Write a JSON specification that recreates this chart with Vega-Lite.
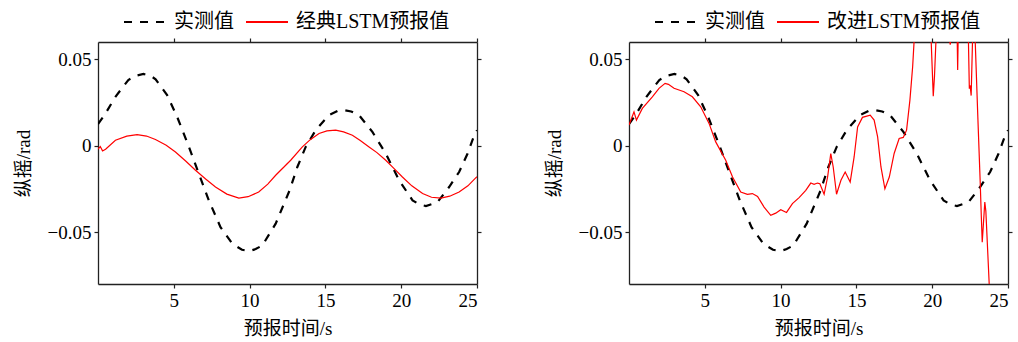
{
  "$schema": "https://vega.github.io/schema/vega-lite/v6.json",
  "padding": {"left": 14, "top": 0, "right": 5, "bottom": 5},
  "spacing": 63,
  "datasets": {
    "actual": [
      {"t": 0, "v": 0.0125, "s": "实测值"},
      {"t": 0.5, "v": 0.0187, "s": "实测值"},
      {"t": 1.15, "v": 0.0283, "s": "实测值"},
      {"t": 2.0, "v": 0.038, "s": "实测值"},
      {"t": 2.5, "v": 0.0405, "s": "实测值"},
      {"t": 3.0, "v": 0.0415, "s": "实测值"},
      {"t": 3.5, "v": 0.0403, "s": "实测值"},
      {"t": 3.8, "v": 0.0384, "s": "实测值"},
      {"t": 4.56, "v": 0.0293, "s": "实测值"},
      {"t": 5.22, "v": 0.0167, "s": "实测值"},
      {"t": 6.0, "v": -0.0007, "s": "实测值"},
      {"t": 6.65, "v": -0.0161, "s": "实测值"},
      {"t": 7.31, "v": -0.0316, "s": "实测值"},
      {"t": 8.08, "v": -0.0471, "s": "实测值"},
      {"t": 8.86, "v": -0.0567, "s": "实测值"},
      {"t": 9.5, "v": -0.0602, "s": "实测值"},
      {"t": 9.96, "v": -0.061, "s": "实测值"},
      {"t": 10.4, "v": -0.0598, "s": "实测值"},
      {"t": 10.84, "v": -0.0577, "s": "实测值"},
      {"t": 11.72, "v": -0.0451, "s": "实测值"},
      {"t": 12.64, "v": -0.0258, "s": "实测值"},
      {"t": 13.15, "v": -0.0123, "s": "实测值"},
      {"t": 13.7, "v": -0.0007, "s": "实测值"},
      {"t": 14.36, "v": 0.009, "s": "实测值"},
      {"t": 15.24, "v": 0.0177, "s": "实测值"},
      {"t": 15.8, "v": 0.0201, "s": "实测值"},
      {"t": 16.23, "v": 0.0206, "s": "实测值"},
      {"t": 16.7, "v": 0.0198, "s": "实测值"},
      {"t": 17.22, "v": 0.0177, "s": "实测值"},
      {"t": 18.1, "v": 0.008, "s": "实测值"},
      {"t": 18.98, "v": -0.0045, "s": "实测值"},
      {"t": 19.86, "v": -0.02, "s": "实测值"},
      {"t": 20.75, "v": -0.0316, "s": "实测值"},
      {"t": 21.2, "v": -0.034, "s": "实测值"},
      {"t": 21.63, "v": -0.0349, "s": "实测值"},
      {"t": 22.4, "v": -0.0326, "s": "实测值"},
      {"t": 23.16, "v": -0.0239, "s": "实测值"},
      {"t": 23.82, "v": -0.0152, "s": "实测值"},
      {"t": 24.38, "v": -0.0045, "s": "实测值"},
      {"t": 24.82, "v": 0.0061, "s": "实测值"},
      {"t": 25, "v": 0.009, "s": "实测值"}
    ],
    "classic": [
      {"t": 0, "v": -0.002, "s": "经典LSTM预报值"},
      {"t": 0.15, "v": -0.0005, "s": "经典LSTM预报值"},
      {"t": 0.3, "v": -0.003, "s": "经典LSTM预报值"},
      {"t": 0.5, "v": -0.002, "s": "经典LSTM预报值"},
      {"t": 1.15, "v": 0.0032, "s": "经典LSTM预报值"},
      {"t": 1.9, "v": 0.0055, "s": "经典LSTM预报值"},
      {"t": 2.58, "v": 0.0064, "s": "经典LSTM预报值"},
      {"t": 3.2, "v": 0.0056, "s": "经典LSTM预报值"},
      {"t": 3.79, "v": 0.0036, "s": "经典LSTM预报值"},
      {"t": 4.5, "v": 0.0003, "s": "经典LSTM预报值"},
      {"t": 5.11, "v": -0.0036, "s": "经典LSTM预报值"},
      {"t": 5.8, "v": -0.009, "s": "经典LSTM预报值"},
      {"t": 6.43, "v": -0.0142, "s": "经典LSTM预报值"},
      {"t": 7.1, "v": -0.0193, "s": "经典LSTM预报值"},
      {"t": 7.75, "v": -0.0239, "s": "经典LSTM预报值"},
      {"t": 8.5, "v": -0.028, "s": "经典LSTM预报值"},
      {"t": 9.29, "v": -0.0303, "s": "经典LSTM预报值"},
      {"t": 9.9, "v": -0.0295, "s": "经典LSTM预报值"},
      {"t": 10.6, "v": -0.0268, "s": "经典LSTM预报值"},
      {"t": 11.2, "v": -0.0222, "s": "经典LSTM预报值"},
      {"t": 11.72, "v": -0.0171, "s": "经典LSTM预报值"},
      {"t": 12.38, "v": -0.0113, "s": "经典LSTM预报值"},
      {"t": 12.71, "v": -0.0084, "s": "经典LSTM预报值"},
      {"t": 13.48, "v": -0.0007, "s": "经典LSTM预报值"},
      {"t": 14.0, "v": 0.0035, "s": "经典LSTM预报值"},
      {"t": 14.58, "v": 0.0071, "s": "经典LSTM预报值"},
      {"t": 15.1, "v": 0.0086, "s": "经典LSTM预报值"},
      {"t": 15.68, "v": 0.009, "s": "经典LSTM预报值"},
      {"t": 16.2, "v": 0.008, "s": "经典LSTM预报值"},
      {"t": 16.78, "v": 0.0061, "s": "经典LSTM预报值"},
      {"t": 17.3, "v": 0.003, "s": "经典LSTM预报值"},
      {"t": 17.88, "v": -0.0007, "s": "经典LSTM预报值"},
      {"t": 18.4, "v": -0.004, "s": "经典LSTM预报值"},
      {"t": 18.98, "v": -0.0084, "s": "经典LSTM预报值"},
      {"t": 19.5, "v": -0.013, "s": "经典LSTM预报值"},
      {"t": 20.08, "v": -0.0181, "s": "经典LSTM预报值"},
      {"t": 20.7, "v": -0.0232, "s": "经典LSTM预报值"},
      {"t": 21.41, "v": -0.0277, "s": "经典LSTM预报值"},
      {"t": 22.0, "v": -0.0298, "s": "经典LSTM预报值"},
      {"t": 22.62, "v": -0.0303, "s": "经典LSTM预报值"},
      {"t": 23.2, "v": -0.0292, "s": "经典LSTM预报值"},
      {"t": 23.82, "v": -0.0268, "s": "经典LSTM预报值"},
      {"t": 24.4, "v": -0.0232, "s": "经典LSTM预报值"},
      {"t": 24.93, "v": -0.0185, "s": "经典LSTM预报值"},
      {"t": 25, "v": -0.018, "s": "经典LSTM预报值"}
    ],
    "improved": [
      {"t": 0, "v": 0.012, "s": "改进LSTM预报值"},
      {"t": 0.33, "v": 0.0196, "s": "改进LSTM预报值"},
      {"t": 0.49, "v": 0.0148, "s": "改进LSTM预报值"},
      {"t": 0.88, "v": 0.0216, "s": "改进LSTM预报值"},
      {"t": 1.54, "v": 0.0283, "s": "改进LSTM预报值"},
      {"t": 1.98, "v": 0.0332, "s": "改进LSTM预报值"},
      {"t": 2.38, "v": 0.0361, "s": "改进LSTM预报值"},
      {"t": 2.6, "v": 0.0355, "s": "改进LSTM预报值"},
      {"t": 2.97, "v": 0.0332, "s": "改进LSTM预报值"},
      {"t": 3.63, "v": 0.0312, "s": "改进LSTM预报值"},
      {"t": 4.18, "v": 0.0283, "s": "改进LSTM预报值"},
      {"t": 4.73, "v": 0.0225, "s": "改进LSTM预报值"},
      {"t": 5.28, "v": 0.0129, "s": "改进LSTM预报值"},
      {"t": 5.72, "v": 0.0022, "s": "改进LSTM预报值"},
      {"t": 6.38, "v": -0.0084, "s": "改进LSTM预报值"},
      {"t": 6.83, "v": -0.0181, "s": "改进LSTM预报值"},
      {"t": 7.37, "v": -0.0268, "s": "改进LSTM预报值"},
      {"t": 7.81, "v": -0.0281, "s": "改进LSTM预报值"},
      {"t": 8.14, "v": -0.0277, "s": "改进LSTM预报值"},
      {"t": 8.48, "v": -0.0293, "s": "改进LSTM预报值"},
      {"t": 8.91, "v": -0.0355, "s": "改进LSTM预报值"},
      {"t": 9.35, "v": -0.0403, "s": "改进LSTM预报值"},
      {"t": 9.68, "v": -0.039, "s": "改进LSTM预报值"},
      {"t": 10.01, "v": -0.037, "s": "改进LSTM预报值"},
      {"t": 10.39, "v": -0.0386, "s": "改进LSTM预报值"},
      {"t": 10.78, "v": -0.0335, "s": "改进LSTM预报值"},
      {"t": 11.22, "v": -0.03, "s": "改进LSTM预报值"},
      {"t": 11.66, "v": -0.0258, "s": "改进LSTM预报值"},
      {"t": 11.99, "v": -0.0216, "s": "改进LSTM预报值"},
      {"t": 12.21, "v": -0.0223, "s": "改进LSTM预报值"},
      {"t": 12.43, "v": -0.0216, "s": "改进LSTM预报值"},
      {"t": 12.59, "v": -0.022, "s": "改进LSTM预报值"},
      {"t": 12.87, "v": -0.0281, "s": "改进LSTM预报值"},
      {"t": 13.1, "v": -0.0181, "s": "改进LSTM预报值"},
      {"t": 13.31, "v": -0.0045, "s": "改进LSTM预报值"},
      {"t": 13.47, "v": -0.0123, "s": "改进LSTM预报值"},
      {"t": 13.69, "v": -0.0281, "s": "改进LSTM预报值"},
      {"t": 13.98, "v": -0.02, "s": "改进LSTM预报值"},
      {"t": 14.26, "v": -0.0152, "s": "改进LSTM预报值"},
      {"t": 14.59, "v": -0.021, "s": "改进LSTM预报值"},
      {"t": 14.85, "v": -0.0065, "s": "改进LSTM预报值"},
      {"t": 15.08, "v": 0.0109, "s": "改进LSTM预报值"},
      {"t": 15.4, "v": 0.0164, "s": "改进LSTM预报值"},
      {"t": 15.91, "v": 0.0177, "s": "改进LSTM预报值"},
      {"t": 16.17, "v": 0.0148, "s": "改进LSTM预报值"},
      {"t": 16.4, "v": 0.0051, "s": "改进LSTM预报值"},
      {"t": 16.62, "v": -0.0123, "s": "改进LSTM预报值"},
      {"t": 16.88, "v": -0.0249, "s": "改进LSTM预报值"},
      {"t": 17.17, "v": -0.0181, "s": "改进LSTM预报值"},
      {"t": 17.49, "v": -0.0045, "s": "改进LSTM预报值"},
      {"t": 17.82, "v": 0.0042, "s": "改进LSTM预报值"},
      {"t": 18.09, "v": 0.0048, "s": "改进LSTM预报值"},
      {"t": 18.31, "v": 0.009, "s": "改进LSTM预报值"},
      {"t": 18.53, "v": 0.0264, "s": "改进LSTM预报值"},
      {"t": 18.71, "v": 0.0457, "s": "改进LSTM预报值"},
      {"t": 18.9, "v": 0.075, "s": "改进LSTM预报值"},
      {"t": 19.3, "v": 0.11, "s": "改进LSTM预报值"},
      {"t": 19.75, "v": 0.1, "s": "改进LSTM预报值"},
      {"t": 19.87, "v": 0.075, "s": "改进LSTM预报值"},
      {"t": 20.07, "v": 0.0287, "s": "改进LSTM预报值"},
      {"t": 20.15, "v": 0.04, "s": "改进LSTM预报值"},
      {"t": 20.3, "v": 0.072, "s": "改进LSTM预报值"},
      {"t": 20.8, "v": 0.09, "s": "改进LSTM预报值"},
      {"t": 21.1, "v": 0.064, "s": "改进LSTM预报值"},
      {"t": 21.19, "v": 0.0585, "s": "改进LSTM预报值"},
      {"t": 21.28, "v": 0.065, "s": "改进LSTM预报值"},
      {"t": 21.6, "v": 0.09, "s": "改进LSTM预报值"},
      {"t": 21.68, "v": 0.0438, "s": "改进LSTM预报值"},
      {"t": 21.76, "v": 0.09, "s": "改进LSTM预报值"},
      {"t": 22.2, "v": 0.1, "s": "改进LSTM预报值"},
      {"t": 22.38, "v": 0.065, "s": "改进LSTM预报值"},
      {"t": 22.45, "v": 0.033, "s": "改进LSTM预报值"},
      {"t": 22.5, "v": 0.035, "s": "改进LSTM预报值"},
      {"t": 22.57, "v": 0.029, "s": "改进LSTM预报值"},
      {"t": 22.68, "v": 0.068, "s": "改进LSTM预报值"},
      {"t": 22.8, "v": 0.07, "s": "改进LSTM预报值"},
      {"t": 23.0, "v": 0.019, "s": "改进LSTM预报值"},
      {"t": 23.17, "v": -0.022, "s": "改进LSTM预报值"},
      {"t": 23.24, "v": -0.041, "s": "改进LSTM预报值"},
      {"t": 23.3, "v": -0.0558, "s": "改进LSTM预报值"},
      {"t": 23.38, "v": -0.045, "s": "改进LSTM预报值"},
      {"t": 23.47, "v": -0.0326, "s": "改进LSTM预报值"},
      {"t": 23.54, "v": -0.038, "s": "改进LSTM预报值"},
      {"t": 23.76, "v": -0.08, "s": "改进LSTM预报值"},
      {"t": 23.9, "v": -0.12, "s": "改进LSTM预报值"}
    ]
  },
  "config": {
    "font": "Liberation Serif, Noto Sans CJK SC",
    "view": {"stroke": null},
    "axis": {
      "grid": false,
      "domainColor": "#222222",
      "domainWidth": 1.3,
      "tickColor": "#222222",
      "tickWidth": 1.2,
      "tickSize": 4,
      "labelFont": "Liberation Serif, Noto Sans CJK SC",
      "labelFontSize": 19,
      "labelColor": "#000000",
      "labelPadding": 3,
      "titleFont": "Liberation Serif, Noto Sans CJK SC",
      "titleFontSize": 19,
      "titleFontWeight": "normal",
      "titleColor": "#000000"
    }
  },
  "resolve": {
    "scale": {"color": "independent", "x": "independent", "y": "independent"},
    "legend": {"color": "independent"}
  },
  "hconcat": [
    {
      "width": 379,
      "height": 242,
      "resolve": {"axis": {"x": "independent", "y": "independent"}},
      "layer": [
        {
          "data": {"name": "actual"},
          "mark": {"type": "line", "clip": true, "strokeCap": "butt", "strokeDash": [8, 8], "strokeWidth": 2.2},
          "encoding": {
            "x": {"field": "t", "type": "quantitative", "scale": {"domain": [0, 25], "nice": false, "zero": false}, "axis": {"orient": "bottom", "values": [5, 10, 15, 20, 25], "title": "预报时间/s", "titlePadding": 9}},
            "y": {"field": "v", "type": "quantitative", "scale": {"domain": [-0.08, 0.06], "nice": false, "zero": false}, "axis": {"orient": "left", "values": [-0.05, 0, 0.05], "format": ".2~f", "title": "纵摇/rad", "titlePadding": 14}},
            "color": {"field": "s", "type": "nominal", "scale": {"domain": ["实测值", "经典LSTM预报值"], "range": ["#000000", "#ff0000"]}, "legend": {"title": null, "orient": "none", "direction": "horizontal", "legendX": 25, "legendY": -42, "symbolType": "stroke", "symbolSize": 1764, "symbolStrokeWidth": 1.8, "labelOffset": 7, "columnPadding": 8, "labelFont": "Liberation Serif, Noto Sans CJK SC", "labelFontSize": 20, "labelColor": "#000000", "encode": {"symbols": {"update": {"strokeDash": {"signal": "datum.value === '实测值' ? [8, 8] : [1, 0]"}}}}}},
            "order": {"field": "t", "type": "quantitative"}
          }
        },
        {
          "data": {"name": "classic"},
          "mark": {"type": "line", "clip": true, "strokeWidth": 1.2},
          "encoding": {
            "x": {"field": "t", "type": "quantitative", "scale": {"domain": [0, 25], "nice": false, "zero": false}, "axis": {"orient": "top", "values": [5, 10, 15, 20, 25], "labels": false, "title": null}},
            "y": {"field": "v", "type": "quantitative", "scale": {"domain": [-0.08, 0.06], "nice": false, "zero": false}, "axis": {"orient": "right", "values": [-0.05, 0, 0.05], "labels": false, "title": null}},
            "color": {"field": "s", "type": "nominal", "scale": {"domain": ["实测值", "经典LSTM预报值"], "range": ["#000000", "#ff0000"]}},
            "order": {"field": "t", "type": "quantitative"}
          }
        }
      ]
    },
    {
      "width": 379,
      "height": 242,
      "resolve": {"axis": {"x": "independent", "y": "independent"}},
      "layer": [
        {
          "data": {"name": "actual"},
          "mark": {"type": "line", "clip": true, "strokeCap": "butt", "strokeDash": [8, 8], "strokeWidth": 2.2},
          "encoding": {
            "x": {"field": "t", "type": "quantitative", "scale": {"domain": [0, 25], "nice": false, "zero": false}, "axis": {"orient": "bottom", "values": [5, 10, 15, 20, 25], "title": "预报时间/s", "titlePadding": 9}},
            "y": {"field": "v", "type": "quantitative", "scale": {"domain": [-0.08, 0.06], "nice": false, "zero": false}, "axis": {"orient": "left", "values": [-0.05, 0, 0.05], "format": ".2~f", "title": "纵摇/rad", "titlePadding": 14}},
            "color": {"field": "s", "type": "nominal", "scale": {"domain": ["实测值", "改进LSTM预报值"], "range": ["#000000", "#ff0000"]}, "legend": {"title": null, "orient": "none", "direction": "horizontal", "legendX": 25, "legendY": -42, "symbolType": "stroke", "symbolSize": 1764, "symbolStrokeWidth": 1.8, "labelOffset": 7, "columnPadding": 8, "labelFont": "Liberation Serif, Noto Sans CJK SC", "labelFontSize": 20, "labelColor": "#000000", "encode": {"symbols": {"update": {"strokeDash": {"signal": "datum.value === '实测值' ? [8, 8] : [1, 0]"}}}}}},
            "order": {"field": "t", "type": "quantitative"}
          }
        },
        {
          "data": {"name": "improved"},
          "mark": {"type": "line", "clip": true, "strokeWidth": 1.2},
          "encoding": {
            "x": {"field": "t", "type": "quantitative", "scale": {"domain": [0, 25], "nice": false, "zero": false}, "axis": {"orient": "top", "values": [5, 10, 15, 20, 25], "labels": false, "title": null}},
            "y": {"field": "v", "type": "quantitative", "scale": {"domain": [-0.08, 0.06], "nice": false, "zero": false}, "axis": {"orient": "right", "values": [-0.05, 0, 0.05], "labels": false, "title": null}},
            "color": {"field": "s", "type": "nominal", "scale": {"domain": ["实测值", "改进LSTM预报值"], "range": ["#000000", "#ff0000"]}},
            "order": {"field": "t", "type": "quantitative"}
          }
        }
      ]
    }
  ]
}
